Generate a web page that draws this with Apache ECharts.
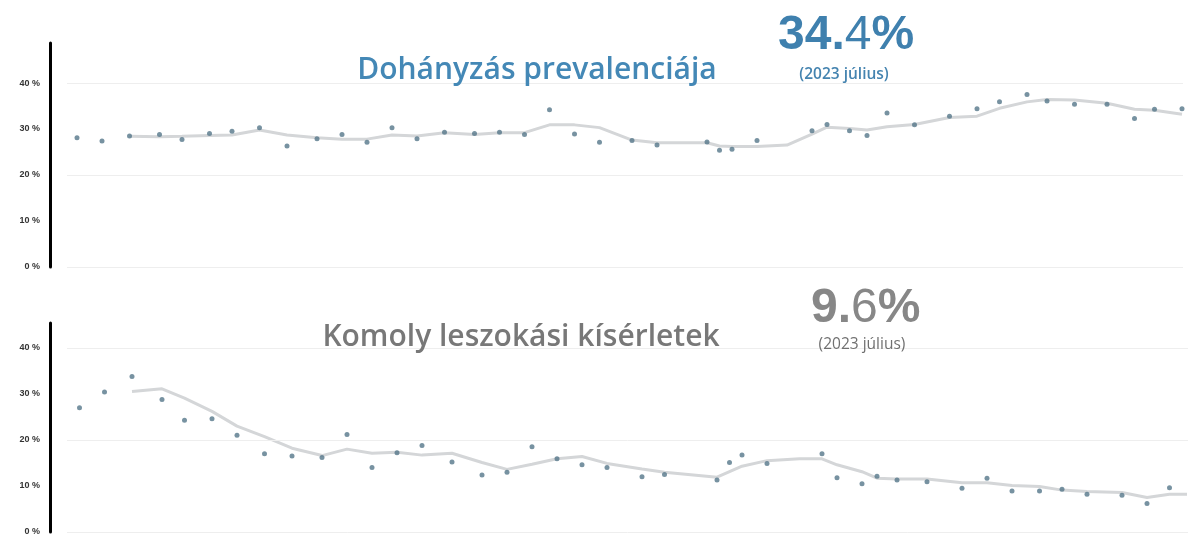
<!DOCTYPE html>
<html>
<head>
<meta charset="utf-8">
<script src="https://cdn.jsdelivr.net/npm/echarts@6/dist/echarts.min.js"></script>
<style>html,body{margin:0;padding:0;background:#fff;}#c{width:1201px;height:552px;}</style>
</head>
<body>
<div id="c"></div>
<script>
// ---- data (x = months from start of period, y = percent) ----
const topTitle = 'Dohányzás prevalenciája';
const botTitle = 'Komoly leszokási kísérletek';
const topLatest = ['34', '4'];
const botLatest = ['9', '6'];
const latestLabel = '(2023 július)';
const yTicks = [0, 10, 20, 30, 40];
const gridTicks = [0, 20, 40];

const topX = [0.4,1.4,2.5,3.7,4.6,5.7,6.6,7.7,8.8,10.0,11.0,12.0,13.0,14.0,15.1,16.3,17.3,18.3,19.3,20.3,21.3,22.6,23.6,25.6,26.1,26.6,27.6,29.8,30.4,31.3,32.0,32.8,33.9,35.3,36.4,37.3,38.4,39.2,40.3,41.6,42.7,43.5,44.6];
const topY = [28.1,27.4,28.5,28.8,27.7,29.0,29.5,30.3,26.3,27.9,28.8,27.1,30.3,27.9,29.3,29.0,29.3,28.8,34.2,28.9,27.1,27.5,26.5,27.2,25.4,25.6,27.5,29.6,31.0,29.6,28.6,33.5,30.9,32.8,34.4,35.9,37.5,36.1,35.4,35.4,32.3,34.3,34.4];
const topTrendX = [2.5,3.7,4.6,5.7,6.6,7.7,8.8,10.0,11.0,12.0,13.0,14.0,15.1,16.3,17.3,18.3,19.3,20.3,21.3,22.6,23.6,25.6,26.1,26.6,27.6,28.8,29.8,30.4,31.3,32.0,32.8,33.9,35.3,36.4,37.3,38.4,39.2,40.3,41.6,42.7,43.5,44.6];
const topTrendY = [28.4,28.3,28.4,28.6,28.7,29.8,28.7,28.1,27.8,27.8,28.7,28.5,29.2,28.8,29.2,29.2,30.9,30.9,30.3,27.6,27.0,27.0,26.3,26.2,26.2,26.5,28.9,30.4,30.1,29.8,30.5,31.0,32.5,32.8,34.5,35.9,36.4,36.3,35.6,34.3,34.1,33.2];

const botX = [0.5,1.5,2.6,3.8,4.7,5.8,6.8,7.9,9.0,10.2,11.2,12.2,13.2,14.2,15.4,16.6,17.6,18.6,19.6,20.6,21.6,23.0,23.9,26.0,26.5,27.0,28.0,30.2,30.8,31.8,32.4,33.2,34.4,35.8,36.8,37.8,38.9,39.8,40.8,42.2,43.2,44.1];
const botY = [27.0,30.4,33.8,28.8,24.3,24.6,21.0,17.0,16.5,16.2,21.2,14.0,17.2,18.8,15.2,12.4,13.0,18.5,15.9,14.6,14.0,12.0,12.5,11.3,15.1,16.7,14.9,17.0,11.8,10.5,12.1,11.3,10.9,9.5,11.7,8.9,8.9,9.3,8.2,8.0,6.2,9.6];
const botTrendX = [2.6,3.8,4.7,5.8,6.8,7.9,9.0,10.2,11.2,12.2,13.2,14.2,15.4,16.6,17.6,18.6,19.6,20.6,21.6,23.0,23.9,26.0,26.5,27.0,28.0,29.3,30.2,30.8,31.8,32.4,33.2,34.4,35.8,36.8,37.8,38.9,39.8,40.8,42.2,43.2,44.1,44.8];
const botTrendY = [30.5,31.1,29.1,26.2,23.0,20.7,18.2,16.6,18.0,17.1,17.3,16.7,17.1,15.1,13.6,14.7,15.9,16.4,14.9,13.7,13.0,11.9,13.1,14.3,15.5,15.9,15.9,14.6,13.1,11.7,11.5,11.5,10.7,10.7,10.1,9.9,9.1,8.8,8.6,7.5,8.2,8.2];

// ---- chart ----
const pair = (xs, ys) => xs.map((x, i) => [x, ys[i]]);
const chart = echarts.init(document.getElementById('c'));
const pointColor = '#557789';
const trendColor = '#d4d6d8';
const gridColor = '#eeeeee';

function yAxisFor(gi, max) {
  return {
    type: 'value', gridIndex: gi, min: 0, max: max, interval: 10,
    offset: 17,
    axisLine: { show: true, onZero: false, lineStyle: { color: '#000', width: 3 } },
    axisTick: { show: false },
    splitLine: { show: false },
    axisLabel: {
      showMaxLabel: false, margin: 10,
      formatter: v => (yTicks.indexOf(v) >= 0 ? v + ' %' : ''),
      color: '#333', fontSize: 9, fontWeight: 'bold', fontFamily: 'Liberation Sans'
    }
  };
}
function gridMark() {
  return {
    silent: true, symbol: 'none', label: { show: false },
    lineStyle: { color: gridColor, width: 1, type: 'solid' },
    data: gridTicks.map(v => ({ yAxis: v }))
  };
}

const option = {
  backgroundColor: '#ffffff',
  animation: false,
  grid: [
    { left: 67, right: 18, top: 43, bottom: 285 },
    { left: 67, right: 13, top: 323, bottom: 20 }
  ],
  xAxis: [
    { type: 'value', gridIndex: 0, min: 0, max: 44.64, show: false },
    { type: 'value', gridIndex: 1, min: 0, max: 44.84, show: false }
  ],
  yAxis: [ yAxisFor(0, 48.7), yAxisFor(1, 45.4) ],
  series: [
    { type: 'line', xAxisIndex: 0, yAxisIndex: 0, data: pair(topTrendX, topTrendY), showSymbol: false,
      lineStyle: { color: trendColor, width: 3 }, z: 2, markLine: gridMark() },
    { type: 'scatter', xAxisIndex: 0, yAxisIndex: 0, data: pair(topX, topY), symbolSize: 5,
      itemStyle: { color: pointColor }, z: 3 },
    { type: 'line', xAxisIndex: 1, yAxisIndex: 1, data: pair(botTrendX, botTrendY), showSymbol: false,
      lineStyle: { color: trendColor, width: 3 }, z: 2, markLine: gridMark() },
    { type: 'scatter', xAxisIndex: 1, yAxisIndex: 1, data: pair(botX, botY), symbolSize: 5,
      itemStyle: { color: pointColor }, z: 3 }
  ],
  graphic: [
    { type: 'text', x: 537, y: 70, z: 10, style: { text: topTitle, fill: '#4488b6',
      font: '600 30px "Open Sans"', align: 'center', verticalAlign: 'middle' } },
    { type: 'text', x: 521, y: 337, z: 10, style: { text: botTitle, fill: '#787878',
      font: '600 30px "Open Sans"', align: 'center', verticalAlign: 'middle' } },
    { type: 'text', x: 778, y: 36, z: 10, style: {
      text: '{a|' + topLatest[0] + '.}{b|' + topLatest[1] + '}{a|%}',
      align: 'left', verticalAlign: 'middle',
      rich: {
        a: { fontSize: 48, fontWeight: 'bold', fontFamily: 'Liberation Sans', fill: '#3f80ae', color: '#3f80ae' },
        b: { fontSize: 48, fontWeight: 'normal', fontFamily: 'Liberation Sans', fill: '#3f80ae', color: '#3f80ae' }
      } } },
    { type: 'text', x: 844, y: 75, z: 10, style: { text: latestLabel, fill: '#4584b0',
      font: '600 15.5px "Open Sans"', align: 'center', verticalAlign: 'middle' } },
    { type: 'text', x: 811, y: 309, z: 10, style: {
      text: '{a|' + botLatest[0] + '.}{b|' + botLatest[1] + '}{a|%}',
      align: 'left', verticalAlign: 'middle',
      rich: {
        a: { fontSize: 48, fontWeight: 'bold', fontFamily: 'Liberation Sans', fill: '#878787', color: '#878787' },
        b: { fontSize: 48, fontWeight: 'normal', fontFamily: 'Liberation Sans', fill: '#878787', color: '#878787' }
      } } },
    { type: 'text', x: 862, y: 345, z: 10, style: { text: latestLabel, fill: '#707070',
      font: '500 15.5px "Open Sans"', align: 'center', verticalAlign: 'middle' } }
  ]
};
chart.setOption(option);
</script>
</body>
</html>
